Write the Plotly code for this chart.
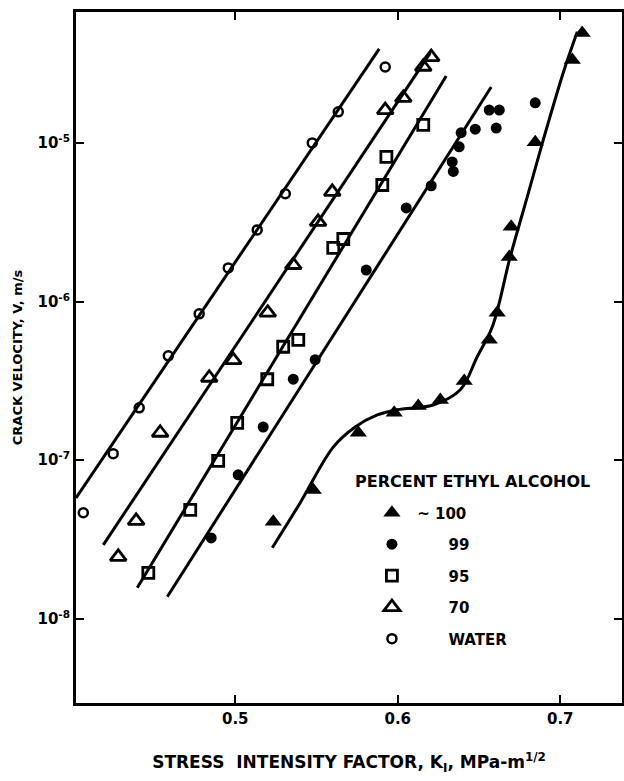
import plotly.graph_objects as go

# ---- data (K in MPa·m^1/2, v in m/s) ----
water_k = [0.4065, 0.4249, 0.4409, 0.4588, 0.4778, 0.4957, 0.5135, 0.5308, 0.5474, 0.5634, 0.5923]
water_v = [4.67e-8, 1.10e-7, 2.14e-7, 4.55e-7, 8.37e-7, 1.63e-6, 2.83e-6, 4.78e-6, 1.0e-5, 1.57e-5, 3.01e-5]

p70_k = [0.428, 0.439, 0.4538, 0.484, 0.4988, 0.52, 0.5357, 0.551, 0.5597, 0.5923, 0.6034, 0.6157, 0.6206]
p70_v = [2.46e-8, 4.15e-8, 1.49e-7, 3.31e-7, 4.27e-7, 8.51e-7, 1.70e-6, 3.18e-6, 4.91e-6, 1.61e-5, 1.92e-5, 3.02e-5, 3.47e-5]

p95_k = [0.4465, 0.4723, 0.4895, 0.5012, 0.5197, 0.5295, 0.5388, 0.5603, 0.5665, 0.5905, 0.593, 0.6157]
p95_v = [1.95e-8, 4.86e-8, 9.91e-8, 1.72e-7, 3.24e-7, 5.19e-7, 5.74e-7, 2.18e-6, 2.48e-6, 5.43e-6, 8.17e-6, 1.30e-5]

p99_k = [0.4852, 0.5018, 0.5172, 0.5357, 0.5492, 0.5806, 0.6052, 0.6206, 0.6335, 0.6342, 0.6378,
         0.639, 0.6477, 0.6563, 0.6625, 0.6606, 0.6846]
p99_v = [3.24e-8, 8.09e-8, 1.62e-7, 3.24e-7, 4.30e-7, 1.58e-6, 3.89e-6, 5.37e-6, 7.59e-6, 6.61e-6, 9.44e-6,
         1.16e-5, 1.22e-5, 1.61e-5, 1.61e-5, 1.24e-5, 1.79e-5]

p100_k = [0.5234, 0.548, 0.5757, 0.5978, 0.6126, 0.6262, 0.6409, 0.6563, 0.6612, 0.6686, 0.6698, 0.6846, 0.7074, 0.7135]
p100_v = [4.09e-8, 6.50e-8, 1.49e-7, 1.99e-7, 2.20e-7, 2.40e-7, 3.16e-7, 5.74e-7, 8.49e-7, 1.91e-6, 2.96e-6,
          1.01e-5, 3.33e-5, 4.93e-5]

# fitted lines (end points) and hand-drawn curve for ~100 %
fit_water_k = [0.402, 0.5886]
fit_water_v = [5.79e-8, 3.91e-5]
fit_70_k = [0.4188, 0.62]
fit_70_v = [2.93e-8, 3.69e-5]
fit_95_k = [0.4397, 0.6298]
fit_95_v = [1.57e-8, 2.64e-5]
fit_99_k = [0.4582, 0.6575]
fit_99_v = [1.38e-8, 2.25e-5]
curve_100_k = [0.5228, 0.540, 0.5603, 0.5738, 0.5874, 0.5997, 0.6218, 0.6385, 0.6489, 0.6582,
               0.6692, 0.6797, 0.6895, 0.7018, 0.7105]
curve_100_v = [2.81e-8, 5.40e-8, 1.21e-7, 1.62e-7, 1.93e-7, 2.08e-7, 2.23e-7, 2.78e-7, 4.49e-7, 6.93e-7,
               1.91e-6, 4.57e-6, 1.04e-5, 2.76e-5, 5.01e-5]

x_tickvals = [0.5, 0.6, 0.7]
x_ticktext = ["0.5", "0.6", "0.7"]
y_tickvals = [1e-8, 1e-7, 1e-6, 1e-5]
y_ticktext = ["10<sup>-8</sup>", "10<sup>-7</sup>", "10<sup>-6</sup>", "10<sup>-5</sup>"]

NB = "\u00a0"
legend_names = [NB + "~" + NB + "100", NB * 7 + "99", NB * 7 + "95", NB * 7 + "70", NB * 7 + "WATER"]

FONT = "DejaVu Sans"
BLACK = "black"

fig = go.Figure()

for xs, ys, shape in [(fit_water_k, fit_water_v, "linear"), (fit_70_k, fit_70_v, "linear"),
                      (fit_95_k, fit_95_v, "linear"), (fit_99_k, fit_99_v, "linear"),
                      (curve_100_k, curve_100_v, "spline")]:
    fig.add_trace(go.Scatter(x=xs, y=ys, mode="lines", showlegend=False, hoverinfo="skip",
                             line=dict(color=BLACK, width=3, shape=shape)))

series = [
    (p100_k, p100_v, dict(symbol="triangle-up", size=15, color=BLACK)),
    (p99_k, p99_v, dict(symbol="circle", size=11, color=BLACK)),
    (p95_k, p95_v, dict(symbol="square-open", size=11, color=BLACK, line=dict(width=2.8, color=BLACK))),
    (p70_k, p70_v, dict(symbol="triangle-up-open", size=14, color=BLACK, line=dict(width=2.8, color=BLACK))),
    (water_k, water_v, dict(symbol="circle-open", size=9, color=BLACK, line=dict(width=2.5, color=BLACK))),
]
for i, (xs, ys, mk) in enumerate(series):
    fig.add_trace(go.Scatter(x=xs, y=ys, mode="markers", name=legend_names[i], marker=mk,
                             legendgroup=f"g{i}"))

axis_common = dict(showline=True, linecolor=BLACK, linewidth=3, mirror="ticks", ticks="inside",
                   ticklen=8, tickwidth=2, tickcolor=BLACK, showgrid=False, zeroline=False,
                   tickfont=dict(family=FONT, size=15, color=BLACK, weight="bold"))

fig.update_layout(
    width=624, height=781,
    margin=dict(l=76, r=2, t=12, b=78, autoexpand=False),
    paper_bgcolor="white", plot_bgcolor="white",
    font=dict(family=FONT, color=BLACK, weight="bold"),
    xaxis=dict(range=[0.402, 0.738], tickvals=x_tickvals, ticktext=x_ticktext, automargin=False,
               title=dict(text="STRESS  INTENSITY FACTOR, K<sub>I</sub>, MPa-m<sup>1/2</sup>",
                          font=dict(family=FONT, size=17, color=BLACK, weight="bold"), standoff=30),
               **axis_common),
    yaxis=dict(type="log", range=[-8.53, -4.175], tickvals=y_tickvals, ticktext=y_ticktext, automargin=False,
               title=dict(text="CRACK VELOCITY, V, m/s",
                          font=dict(family=FONT, size=13, color=BLACK, weight="bold"), standoff=12),
               **axis_common),
    legend=dict(x=0.542, y=0.299, xanchor="left", yanchor="top", bgcolor="rgba(0,0,0,0)",
                tracegroupgap=9, font=dict(family=FONT, size=15, color=BLACK, weight="bold")),
    annotations=[dict(text="PERCENT ETHYL ALCOHOL", x=0.727, y=0.321, xref="paper", yref="paper",
                      xanchor="center", yanchor="middle", showarrow=False,
                      font=dict(family=FONT, size=16, color=BLACK, weight="bold"))],
)

fig.write_html("out.html", config={"displayModeBar": False},
               post_script="document.body.style.margin='0';document.body.style.overflow='hidden';")
